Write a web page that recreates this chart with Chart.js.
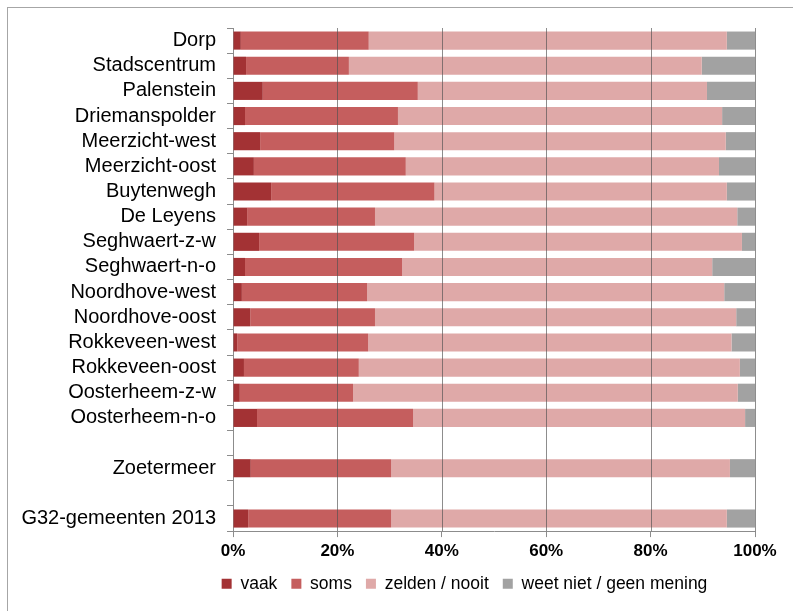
<!DOCTYPE html>
<html>
<head>
<meta charset="utf-8">
<script src="https://cdn.jsdelivr.net/npm/chart.js@4"></script>
<style>
  html, body { margin: 0; padding: 0; background: #fff; overflow: hidden; }
  #wrap { position: relative; width: 793px; height: 611px; overflow: hidden; }
  #frame { position: absolute; left: 7px; top: 7px; width: 1000px; height: 1000px; border: 1px solid #a6a6a6; box-sizing: border-box; }
  canvas { position: absolute; left: 0; top: 0; }
</style>
</head>
<body>
<div id="wrap">
  <div id="frame"></div>
  <canvas id="c" width="793" height="611"></canvas>
</div>
<script>
const categories = ['Dorp','Stadscentrum','Palenstein','Driemanspolder','Meerzicht-west','Meerzicht-oost','Buytenwegh','De Leyens','Seghwaert-z-w','Seghwaert-n-o','Noordhove-west','Noordhove-oost','Rokkeveen-west','Rokkeveen-oost','Oosterheem-z-w','Oosterheem-n-o','','Zoetermeer','','G32-gemeenten 2013'];
const vaak   = [1.5, 2.5, 5.7, 2.3, 5.2, 4.0, 7.3, 2.7, 5.0, 2.3, 1.7, 3.3, 0.8, 2.1, 1.3, 4.6, null, 3.4, null, 2.9];
const soms   = [24.5,19.7,29.7,29.3,25.7,29.1,31.3,24.5,29.7,30.1,24.0,23.9,25.1,22.0,21.7,29.9,null,26.9,null,27.4];
const zelden = [68.6,67.6,55.4,62.1,63.5,60.0,56.0,69.4,62.8,59.4,68.4,69.2,69.6,73.0,73.7,63.6,null,64.9,null,64.3];
const weet   = [5.4,10.2, 9.2, 6.3, 5.6, 6.9, 5.4, 3.4, 2.5, 8.2, 5.9, 3.6, 4.5, 2.9, 3.3, 1.9,null, 4.8, null, 5.4];
const seriesNames = ['vaak','soms','zelden / nooit','weet niet / geen mening'];
const xTicks = [0, 20, 40, 60, 80, 100];

const colors = ['#a33234', '#c55e5e', '#dfa9a8', '#a2a2a2'];
const seriesData = [vaak, soms, zelden, weet];

const legendShift = {
  id: 'legendShift',
  afterLayout(chart) {
    const l = chart.legend;
    if (!l) return;
    const d = 464.5 - (l.left + l.right) / 2;
    l.left += d; l.right += d;
    l.top -= 4.5; l.bottom -= 4.5;
  }
};

const gridOverlay = {
  id: 'gridOverlay',
  afterDatasetsDraw(chart) {
    const sx = chart.scales.x;
    const area = chart.chartArea;
    const ctx = chart.ctx;
    ctx.save();
    ctx.strokeStyle = 'rgba(80,80,80,0.65)';
    ctx.lineWidth = 1;
    xTicks.forEach(v => {
      if (v === 0) return;
      const px = Math.round(sx.getPixelForValue(v)) + 0.5;
      ctx.beginPath();
      ctx.moveTo(px, area.top);
      ctx.lineTo(px, area.bottom);
      ctx.stroke();
    });
    ctx.restore();
  }
};

new Chart(document.getElementById('c'), {
  type: 'bar',
  data: {
    labels: categories,
    datasets: seriesData.map((d, i) => ({
      label: seriesNames[i],
      data: d,
      backgroundColor: colors[i],
      borderWidth: 0,
      barPercentage: 0.72,
      categoryPercentage: 1.0
    }))
  },
  options: {
    indexAxis: 'y',
    responsive: false,
    animation: false,
    devicePixelRatio: 1,
    layout: { padding: { top: 28, right: 38, left: 10, bottom: 4 } },
    plugins: {
      tooltip: { enabled: false },
      legend: {
        position: 'bottom',
        labels: {
          boxWidth: 10,
          boxHeight: 10,
          padding: 14,
          color: '#000',
          font: { family: 'Liberation Sans, Arial, sans-serif', size: 17.5 }
        }
      }
    },
    scales: {
      x: {
        stacked: true,
        min: 0,
        max: 100,
        afterBuildTicks(scale) { scale.ticks = xTicks.map(v => ({ value: v })); },
        ticks: {
          callback: v => v + '%',
          color: '#000',
          padding: 4,
          maxRotation: 0,
          font: { family: 'Liberation Sans, Arial, sans-serif', size: 17, weight: 'bold' }
        },
        grid: {
          drawOnChartArea: false,
          color: '#8c8c8c',
          tickLength: 6
        },
        border: { color: '#8c8c8c' }
      },
      y: {
        stacked: true,
        afterFit(scale) { scale.width = 223; },
        ticks: {
          color: '#000',
          padding: 11,
          autoSkip: false,
          font: { family: 'Liberation Sans, Arial, sans-serif', size: 20 }
        },
        grid: {
          drawOnChartArea: false,
          tickLength: 6,
          color: '#8c8c8c',
          offset: true
        },
        border: { color: '#8c8c8c' }
      }
    }
  },
  plugins: [legendShift, gridOverlay]
});
</script>
</body>
</html>
